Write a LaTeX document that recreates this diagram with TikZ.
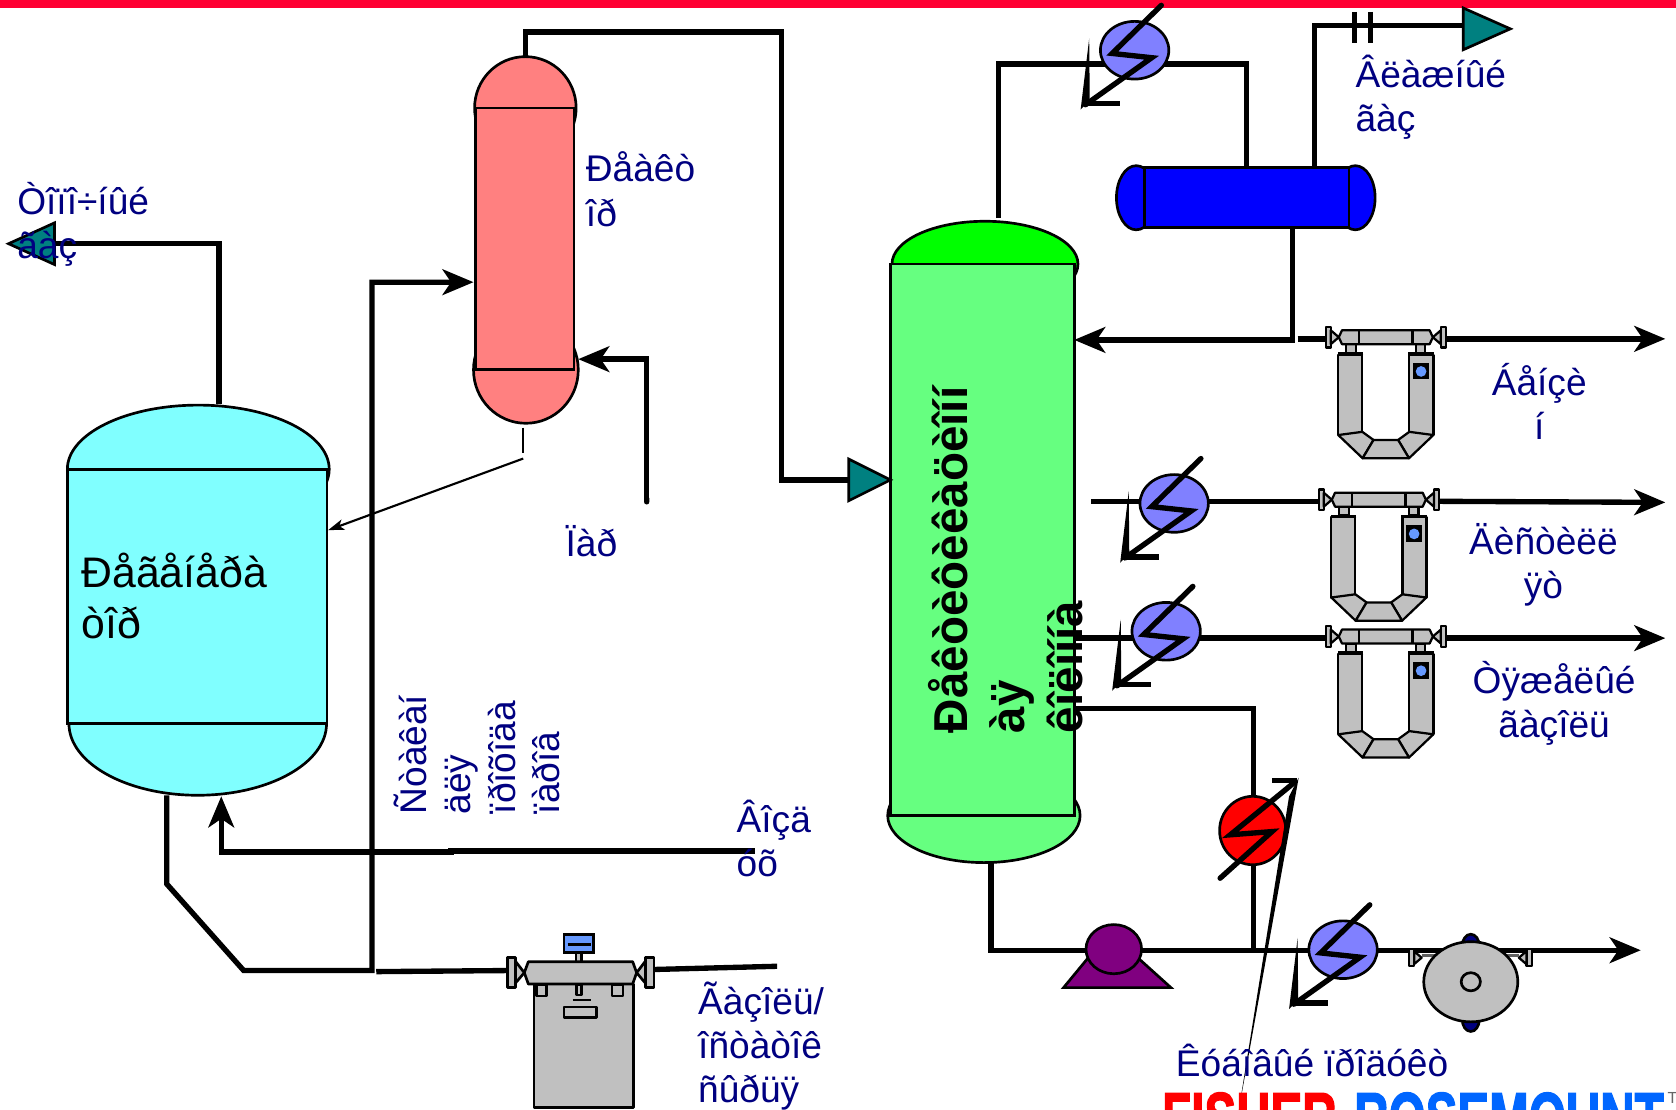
\documentclass[tikz,border=0pt]{standalone}
\usepackage{fontspec}
\setmainfont{Liberation Sans}
\newfontfamily\logofont[FakeBold=2.2]{Liberation Sans Bold}
\usetikzlibrary{arrows.meta,positioning,shapes.geometric}

\definecolor{barred}{HTML}{FF0033}
\definecolor{labelblue}{HTML}{000080}
\definecolor{regencyan}{HTML}{80FFFF}
\definecolor{reactorpink}{HTML}{FF8080}
\definecolor{columngreen}{HTML}{66FF80}
\definecolor{coolblue}{HTML}{8080FF}
\definecolor{teal}{HTML}{008080}
\definecolor{pumppurple}{HTML}{800080}
\definecolor{metalgrey}{HTML}{C0C0C0}
\definecolor{dialblue}{HTML}{6699FF}
\definecolor{logoblue}{HTML}{0066FF}

\tikzset{
    gear/.style={draw=black, fill=metalgrey, line width=2.1pt, line join=round},
    bolt/.pic={
        \draw[line width=5pt, line cap=round] (25,-42) -- (-21,3) -- (16,7) -- (-46,51);
        \draw[line width=5pt] (-48,50) -- (-14,50);
        \fill (-50.5,55.5) -- (-42.5,-11) -- (-42,47) -- cycle;
    },
    umeter/.pic={
        \coordinate (-in) at (-56,0);
        \coordinate (-out) at (56,0);
        \foreach \s in {-1,1} {
            \begin{scope}[xscale=\s]
                \draw[gear] (51.5,-11) rectangle (56,8);
                \draw[gear] (51.5,-8) -- (51.5,5) -- (44,-1.5) -- cycle;
                \draw[gear] (28,5) rectangle (37,13);
                \draw[gear] (22,15) rectangle (44.5,90);
                \draw[line width=3pt] (21,14) -- (45,14);
                \draw[gear] (44.5,90) -- (22,87) -- (11.5,94.6) -- (21.7,111.7) -- cycle;
            \end{scope}
        }
        \draw[gear] (-11.5,94.6) -- (11.5,94.6) -- (21.7,111.7) -- (-21.7,111.7) -- cycle;
        \draw[gear] (-44,-1.5) -- (-41,-8) -- (41,-8) -- (44,-1.5) -- (41,5) -- (-41,5) -- cycle;
        \draw[line width=2.1pt] (-25,-8) -- (-25,5) (25,-8) -- (25,5);
        \fill (25.5,22.5) rectangle (40.5,38);
        \fill[dialblue] (33,30.5) circle (5pt);
    }
}

\begin{document}
\begin{tikzpicture}[x=1pt, y=-1pt,
    pipe/.style={line width=5pt},
    flow/.style={pipe, -{Stealth[length=29pt, width=24pt, inset=8pt]}},
    vessel/.style={draw, line width=2.5pt, inner sep=0pt, outer sep=0pt},
    dome/.style={ellipse, draw, line width=2.5pt, inner sep=0pt, outer sep=0pt},
    exch/.style={dome, fill=coolblue, minimum width=64pt, minimum height=54pt},
    feedtip/.style={isosceles triangle, isosceles triangle stretches, draw, fill=teal, line width=2.5pt,
        inner sep=0pt, outer sep=0pt, anchor=apex, minimum width=39pt, minimum height=43pt},
    lbl/.style={text=labelblue, font=\fontsize{34.7}{41.3}\selectfont, inner sep=0pt, anchor=north west,
        align=left, execute at begin node=\strut},
    lblmid/.style={lbl, anchor=north, align=center},
    logo/.style={inner sep=0pt, anchor=north west, font=\fontsize{66}{66}\logofont}]
    \path[use as bounding box, clip] (0,0) rectangle (1568,1038.2);
    \node[fill=barred, inner sep=0pt, anchor=north west, minimum width=1568pt, minimum height=7.5pt] (topbar) at (0,0) {};

    \node[dome, fill=regencyan, minimum width=245pt, minimum height=120pt] (regentop) at (185.5,439) {};
    \node[dome, fill=regencyan, minimum width=241pt, minimum height=134pt] (regenbot) at (185,677) {};
    \node[vessel, fill=regencyan, minimum width=243pt, minimum height=238pt] (regen) at (184.5,558) {};

    \node[dome, fill=reactorpink, minimum width=95pt, minimum height=96pt] (reactortop) at (491.5,101) {};
    \node[dome, fill=reactorpink, minimum width=98pt, minimum height=100pt] (reactorbot) at (492,346) {};
    \node[vessel, fill=reactorpink, minimum width=92pt, minimum height=245pt, above right=93pt and 139pt of regen] (reactor) {};

    \node[dome, fill=green, minimum width=174pt, minimum height=80pt] (columntop) at (921.5,247) {};
    \node[dome, fill=columngreen, minimum width=180pt, minimum height=88pt] (columnbot) at (920.5,763) {};
    \node[vessel, fill=columngreen, minimum width=172pt, minimum height=516pt, below right=-99pt and 296pt of reactor] (column) {};

    \node[dome, fill=blue, minimum width=37pt, minimum height=60pt] (drumleft) at (1063,185) {};
    \node[dome, fill=blue, minimum width=37pt, minimum height=60pt] (drumright) at (1268,185) {};
    \node[vessel, fill=blue, minimum width=191pt, minimum height=56pt, above right=34pt and 66pt of column] (drum) {};

    \node[feedtip, shape border rotate=180] (offgas) at (8,228) {};
    \node[feedtip, minimum height=39pt] (feed) at (833,449) {};
    \node[feedtip, minimum height=44pt] (wetgas) at (1413,27) {};

    \pic (mbenz) at (1296.5,317) {umeter};
    \pic (mdist) at (1290,469) {umeter};
    \pic (mheavy) at (1296.5,597) {umeter};

    \coordinate (regengas) at (205,378);
    \draw[pipe] (regengas) |- (offgas.lower side);
    \draw[pipe] (reactortop.north) |- (731,30) |- (feed.lower side);
    \coordinate (regenout) at (156,744);
    \coordinate (riser) at (348,908);
    \draw[flow] (regenout) -- (156,827) -- (228,908) -- (riser) |- (443,264);
    \coordinate (steam) at (605,472);
    \draw[flow, {Round Cap}-{Stealth[length=29pt, width=24pt, inset=8pt]}] (steam) |- (541,336);
    \coordinate (air) at (706,796);
    \draw[flow] (air) -- (422,796) -- (422,797) -| (207,745);
    \coordinate (stubtop) at (489.5,400);
    \coordinate (stubend) at (489.5,424);
    \coordinate (catalyst) at (489.5,429);
    \draw[line width=2.2pt] (stubtop) -- (stubend);
    \draw[line width=2pt, -{Stealth[length=15pt, width=10pt, inset=4pt]}] (catalyst) -- (307,496);

    \coordinate (coltop) at (934,204);
    \coordinate (ovhleft) at (934,60);
    \coordinate (ovhright) at (1166,60);
    \coordinate (drumin) at (1166,157);
    \draw[pipe] (coltop) -- (ovhleft) -- (ovhright) -- (drumin);
    \coordinate (drumgas) at (1230,157);
    \draw[pipe] (drumgas) |- (wetgas.lower side |- 0,24);
    \draw[pipe] (1267,11) -- (1267,40) (1282,11) -- (1282,40);
    \coordinate (drumliq) at (1209,213);
    \draw[flow] (drumliq) |- (1005,318);
    \coordinate (benzin) at (1214,317);
    \coordinate (benzout) at (1558,317);
    \draw[pipe] (benzin) -- (mbenz-in);
    \draw[flow] (mbenz-out) -- (benzout);
    \coordinate (distin) at (1021,469);
    \coordinate (distout) at (1558,470);
    \draw[pipe] (distin) -- (mdist-in);
    \draw[flow] (mdist-out) -- (distout);
    \coordinate (heavyin) at (1005,597);
    \coordinate (heavyout) at (1558,597);
    \draw[pipe] (heavyin) -- (mheavy-in);
    \draw[flow] (mheavy-out) -- (heavyout);
    \coordinate (colside) at (1005,663);
    \coordinate (joint) at (1173,889);
    \draw[pipe] (colside) -| (joint);
    \coordinate (colbot) at (927,806);
    \coordinate (botout) at (1535,889);
    \draw[flow] (colbot) |- (botout);

    \node[exch] (ex1) at (1061.5,47) {};
    \node[exch] (ex2) at (1098.5,471) {};
    \node[exch] (ex3) at (1091,590.6) {};
    \node[exch] (ex4) at (1256.5,888.5) {};
    \pic at (ex1) {bolt};
    \pic at (ex2) {bolt};
    \pic at (ex3) {bolt};
    \pic at (ex4) {bolt};

    \node[dome, fill=red, minimum width=62pt, minimum height=64pt] (heater) at (1172,777) {};
    \draw[line width=5pt, line cap=round] (1141.5,821.6) -- (1190,778) -- (1151,781) -- (1211,732);
    \draw[line width=5pt] (1213,730.4) -- (1190,730.4);
    \fill (1215,727.5) -- (1159,1038.2) -- (1206,745) -- cycle;

    \draw[line width=2.5pt, fill=pumppurple] (995,924) -- (1028,884) -- (1060,892) -- (1095.5,924) -- cycle;
    \node[dome, fill=pumppurple, minimum width=52pt, minimum height=46pt] (pump) at (1042,888) {};

    \draw[gear] (1318,888) rectangle (1323,903.5);
    \draw[gear] (1428,888) rectangle (1433.5,903.5);
    \draw[gear] (1323,890) -- (1323,902) -- (1330,896) -- cycle;
    \draw[gear] (1428,890) -- (1428,902) -- (1421,896) -- cycle;
    \draw[line width=3pt, metalgrey!50!black] (1330,894) -- (1421,894);
    \node[dome, fill=labelblue, minimum width=16pt, minimum height=22pt] (bumptop) at (1376,885) {};
    \node[dome, fill=labelblue, minimum width=16pt, minimum height=22pt] (bumpbot) at (1376,954) {};
    \node[dome, fill=metalgrey, minimum width=88pt, minimum height=75pt] (disk) at (1376,918.5) {};
    \node[dome, fill=metalgrey, minimum width=18pt, minimum height=17pt] (hub) at (disk) {};

    \draw[gear, line width=2.5pt] (499.6,920.6) rectangle (592.4,1036);
    \draw[gear, line width=2.2pt] (502,921) rectangle (511.4,931.8);
    \draw[gear, line width=2.2pt] (572.3,921) rectangle (583,931.8);
    \draw[gear, line width=2.2pt] (539.5,921) rectangle (544,931);
    \draw[line width=2.2pt] (535.8,935.5) -- (553,935.5);
    \draw[gear, line width=2.2pt] (527.6,942.4) rectangle (558.2,951.8);
    \draw[gear, line width=2.2pt] (539,891) rectangle (544,900);
    \draw[line width=2.5pt, fill=dialblue] (527.6,874) rectangle (555,891.3);
    \draw[line width=2.2pt] (531,883.5) -- (553,883.5);
    \draw[gear, line width=2.5pt] (494.3,899.7) -- (591.9,899.7) -- (595.6,910) -- (591.9,920.6) -- (494.3,920.6) -- (490.5,910) -- cycle;
    \draw[gear, line width=2.5pt] (482,899) -- (490.5,910) -- (482,920) -- cycle;
    \draw[gear, line width=2.5pt] (604,899) -- (595.6,910) -- (604,920) -- cycle;
    \draw[gear, line width=2.5pt] (474.6,896) rectangle (482,923.6);
    \draw[gear, line width=2.5pt] (604,896) rectangle (612,923.6);
    \coordinate (flowin) at (352,909);
    \coordinate (flowout) at (727,904);
    \draw[pipe] (flowin) -- (474.6,908);
    \draw[pipe] (612,907) -- (flowout);

    \node[lbl] (lbloff) at (16,170.6) {Òîïî÷íûé\\ãàç};
    \node[lbl] (lblreact) at (548,142) {Ðåàêò\\îð};
    \node[lbl] (lblsteam) at (529,491.6) {Ïàð};
    \node[lbl] (lblwet) at (1268,51.6) {Âëàæíûé\\ãàç};
    \node[lblmid] (lblbenz) at (1440,339.6) {Áåíçè\\í};
    \node[lblmid] (lbldist) at (1444,489.6) {Äèñòèëë\\ÿò};
    \node[lblmid] (lblheavy) at (1454,618.6) {Òÿæåëûé\\ãàçîëü};
    \node[lbl] (lblair) at (689,748) {Âîçä\\óõ};
    \node[lbl] (lblfeed) at (653,918) {Ãàçîëü/\\îñòàòîê\\ñûðüÿ};
    \node[lbl] (lblbot) at (1100,977) {Êóáîâûé ïðîäóêò};
    \node[lbl, rotate=90] (lblpipe) at (368.6,762) {Ñòàêàí\\äëÿ\\ïðîõîäà\\ïàðîâ};
    \node[lbl, text=black, font=\fontsize{40}{47.5}\selectfont] (lblregen) at (76,517) {Ðåãåíåðà\\òîð};
    \node[lbl, rotate=90, text=black, font=\fontsize{44.5}{54}\bfseries\selectfont] (lblcolumn) at (868,686) {Ðåêòèôèêàöèîíí\\àÿ\\êîëîííà};

    \node[logo, text=red] (fisher) at (1087,1022) {\scalebox{0.675}[1]{FISHER}};
    \node[logo, text=logoblue, right=16pt of fisher] (rosemount) {\scalebox{0.675}[1]{ROSEMOUNT}};
    \node[inner sep=0pt, anchor=north west, text=black!60, font=\fontsize{15}{15}\selectfont] (trademark) at (1560,1022) {TM};
\end{tikzpicture}
\end{document}
